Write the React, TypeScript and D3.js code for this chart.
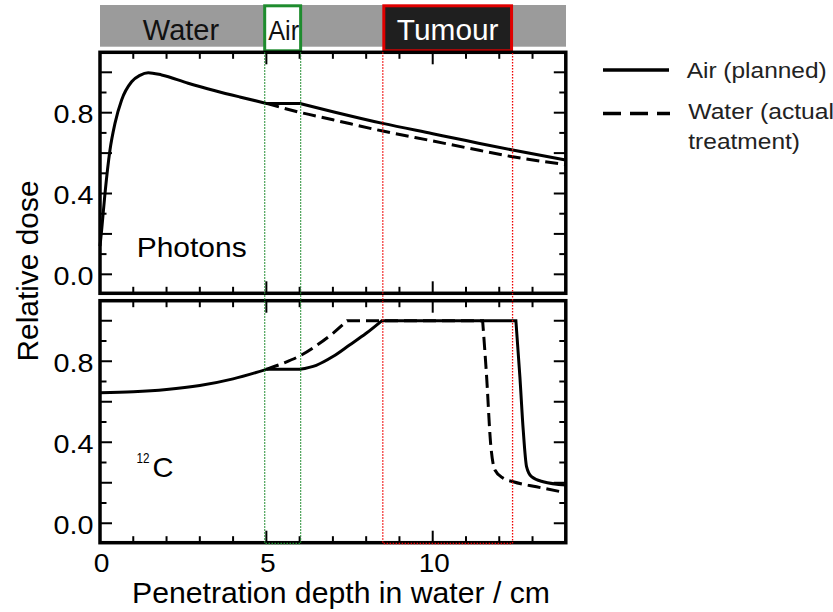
import React from "react";
import * as d3 from "d3";

// ---- data ----
const photonDepth = [0, 0.05, 0.15, 0.3, 0.45, 0.65, 0.95, 1.2, 1.45, 1.85, 2.65, 3.46, 4.2, 5, 6, 7, 8.5, 10, 11, 12.4, 14];
const photonAir = [0.14, 0.22, 0.4, 0.615, 0.747, 0.863, 0.953, 0.985, 0.998, 0.987, 0.946, 0.909, 0.878, 0.846, 0.846, 0.805, 0.747, 0.696, 0.662, 0.615, 0.566];
const photonWater = [0.14, 0.22, 0.4, 0.615, 0.747, 0.863, 0.953, 0.985, 0.998, 0.987, 0.946, 0.909, 0.878, 0.846, 0.802, 0.765, 0.709, 0.66, 0.627, 0.582, 0.543];

const carbonAirDepth = [0, 1, 2, 3, 4, 5, 6, 6.5, 7, 7.5, 8, 8.47, 12.5, 12.62, 12.72, 12.82, 12.97, 13.32, 14];
const carbonAir = [0.645, 0.649, 0.66, 0.68, 0.713, 0.76, 0.76, 0.78, 0.823, 0.88, 0.938, 1.0, 1.0, 0.724, 0.461, 0.28, 0.23, 0.205, 0.189];
const carbonWaterDepth = [0, 1, 2, 3, 4, 5, 5.5, 6, 6.5, 7, 7.43, 11.5, 11.62, 11.74, 11.87, 12.12, 12.42, 13.12, 14];
const carbonWater = [0.645, 0.649, 0.66, 0.68, 0.713, 0.76, 0.79, 0.826, 0.877, 0.938, 1.0, 1.0, 0.724, 0.395, 0.263, 0.222, 0.205, 0.18, 0.151];

// depths where the curves have sharp corners
const photonAirKinks = [5, 6];
const photonWaterKinks = [5];
const carbonAirKinks = [5, 6, 8.47, 12.5];
const carbonWaterKinks = [5, 7.43, 11.5];

// curves coincide up to this depth (start of the air gap)
const branchDepth = 5;
const airRegion = [4.95, 6.03];
const tumourRegion = [8.5, 12.4];
const xTickLabels = [
  { v: 0, t: "0", w: 15.7 },
  { v: 5, t: "5", w: 15.7 },
  { v: 10, t: "10", w: 31 },
];
const yTickLabels = [
  { v: 0, t: "0.0" },
  { v: 0.4, t: "0.4" },
  { v: 0.8, t: "0.8" },
];

const FONT = "'Liberation Sans', Arial, sans-serif";

const x = d3.scaleLinear().domain([0, 14]).range([100, 565.8]);
const yTop = d3.scaleLinear().domain([-0.094, 1.099]).range([293.3, 52.3]);
const yBot = d3.scaleLinear().domain([-0.096, 1.099]).range([542.7, 300.7]);

function curvePath(ds: number[], vs: number[], kinks: number[], y: any): string {
  const gen = d3
    .line<[number, number]>()
    .x((p) => x(p[0]))
    .y((p) => y(p[1]))
    .curve(d3.curveMonotoneX);
  const pts: [number, number][] = ds.map((d, i) => [d, vs[i]]);
  const pieces: [number, number][][] = [];
  let cur: [number, number][] = [];
  pts.forEach((p) => {
    cur.push(p);
    if (kinks.some((k) => Math.abs(k - p[0]) < 1e-9) && cur.length > 1) {
      pieces.push(cur);
      cur = [p];
    }
  });
  if (cur.length > 1) pieces.push(cur);
  return pieces
    .map((pc, i) => {
      const s = gen(pc) as string;
      return i === 0 ? s : s.replace(/^M[^A-Za-z]*/, "");
    })
    .join("");
}

function Panel({ y, air, water, airD, waterD, airK, waterK }: any) {
  const bi = waterD.findIndex((d: number) => d >= branchDepth);
  const [y0, y1] = y.range();
  const xt = x.ticks(14);
  const yt = y.ticks(12).filter((v: number) => v >= -0.001);
  return (
    <g>
      <path d={curvePath(waterD.slice(bi), water.slice(bi), waterK, y)} fill="none" stroke="#000" strokeWidth={3} strokeDasharray="13,6" />
      <path d={curvePath(airD, air, airK, y)} fill="none" stroke="#000" strokeWidth={3} />
      {xt.map((v: number) => {
        const L = v % 5 === 0 ? 12 : 6.5;
        return (
          <g key={"x" + v}>
            <line x1={x(v)} x2={x(v)} y1={y0} y2={y0 - L} stroke="#000" strokeWidth={2} />
            <line x1={x(v)} x2={x(v)} y1={y1} y2={y1 + L} stroke="#000" strokeWidth={2} />
          </g>
        );
      })}
      {yt.map((v: number) => {
        const L = Math.round(v * 10) % 2 === 0 ? 12 : 6.5;
        return (
          <g key={"y" + v}>
            <line x1={100} x2={100 + L} y1={y(v)} y2={y(v)} stroke="#000" strokeWidth={2} />
            <line x1={565.8} x2={565.8 - L} y1={y(v)} y2={y(v)} stroke="#000" strokeWidth={2} />
          </g>
        );
      })}
      {yTickLabels.map((d) => (
        <text key={d.t} x={93.5} y={y(d.v) + 10.5} textAnchor="end" fontSize={26} fontFamily={FONT} textLength={40} lengthAdjust="spacingAndGlyphs">
          {d.t}
        </text>
      ))}
      <rect x={100} y={y1} width={465.8} height={y0 - y1} fill="none" stroke="#000" strokeWidth={3.5} />
    </g>
  );
}

export default function App() {
  const ax0 = x(airRegion[0]);
  const ax1 = x(airRegion[1]);
  const tx0 = x(tumourRegion[0]);
  const tx1 = x(tumourRegion[1]);
  return (
    <svg width={833} height={612} style={{ position: "absolute", left: 0, top: 0, background: "#fff" }}>
      {/* header bar */}
      <rect x={100} y={5} width={466} height={41.7} fill="#9b9b9b" />
      <text x={181} y={40} textAnchor="middle" fontSize={29} fontFamily={FONT} fill="#111">Water</text>
      <rect x={ax0} y={5.8} width={ax1 - ax0} height={45} fill="#fff" stroke="#1e8c2e" strokeWidth={3} />
      <text x={(ax0 + ax1) / 2 + 1} y={39.5} textAnchor="middle" fontSize={28} fontFamily={FONT} fill="#111" textLength={31} lengthAdjust="spacingAndGlyphs">Air</text>
      <rect x={tx0 + 1} y={5.8} width={tx1 - tx0 - 2} height={45} fill="#1f1f1f" stroke="#e00000" strokeWidth={3} />
      <text x={(tx0 + tx1) / 2} y={39.5} textAnchor="middle" fontSize={29} fontFamily={FONT} fill="#fff" textLength={101.6} lengthAdjust="spacingAndGlyphs">Tumour</text>

      <Panel y={yTop} air={photonAir} water={photonWater} airD={photonDepth} waterD={photonDepth} airK={photonAirKinks} waterK={photonWaterKinks} />
      <Panel y={yBot} air={carbonAir} water={carbonWater} airD={carbonAirDepth} waterD={carbonWaterDepth} airK={carbonAirKinks} waterK={carbonWaterKinks} />

      {/* region dotted outlines */}
      <path d={`M${ax0},52.3V543.5H${ax1}V52.3`} fill="none" stroke="#1e8c2e" strokeWidth={1.3} strokeDasharray="1.5,1.5" />
      <path d={`M${tx0},52.3V543.5H${tx1}V52.3`} fill="none" stroke="#f00000" strokeWidth={1.3} strokeDasharray="1.5,1.5" />

      {/* panel labels */}
      <text x={136.7} y={256.7} fontSize={28} fontFamily={FONT} textLength={110} lengthAdjust="spacingAndGlyphs">Photons</text>
      <text x={136.5} y={463} fontSize={15} fontFamily={FONT} textLength={13} lengthAdjust="spacingAndGlyphs">12</text>
      <text x={152.5} y={476.7} fontSize={28} fontFamily={FONT} textLength={21} lengthAdjust="spacingAndGlyphs">C</text>

      {/* x tick labels */}
      {xTickLabels.map((d) => (
        <text key={d.t} x={x(d.v) + 1.5} y={572} textAnchor="middle" fontSize={26} fontFamily={FONT} textLength={d.w} lengthAdjust="spacingAndGlyphs">
          {d.t}
        </text>
      ))}

      {/* axis titles */}
      <text x={341} y={603.3} textAnchor="middle" fontSize={29.5} fontFamily={FONT} textLength={418} lengthAdjust="spacingAndGlyphs">
        Penetration depth in water / cm
      </text>
      <text transform="translate(38.3,271) rotate(-90)" textAnchor="middle" fontSize={29.5} fontFamily={FONT} textLength={181} lengthAdjust="spacingAndGlyphs">
        Relative dose
      </text>

      {/* legend */}
      <line x1={603} x2={669} y1={70} y2={70} stroke="#000" strokeWidth={3.5} />
      <text x={686.7} y={77.7} fontSize={21.5} fontFamily={FONT} fill="#222" textLength={140} lengthAdjust="spacingAndGlyphs">Air (planned)</text>
      <line x1={603} x2={670} y1={113.5} y2={113.5} stroke="#000" strokeWidth={3.5} strokeDasharray="18,9" />
      <text x={688.3} y={119.3} fontSize={21.5} fontFamily={FONT} fill="#222" textLength={145.7} lengthAdjust="spacingAndGlyphs">Water (actual</text>
      <text x={688.3} y={149.3} fontSize={21.5} fontFamily={FONT} fill="#222" textLength={111.7} lengthAdjust="spacingAndGlyphs">treatment)</text>
    </svg>
  );
}
